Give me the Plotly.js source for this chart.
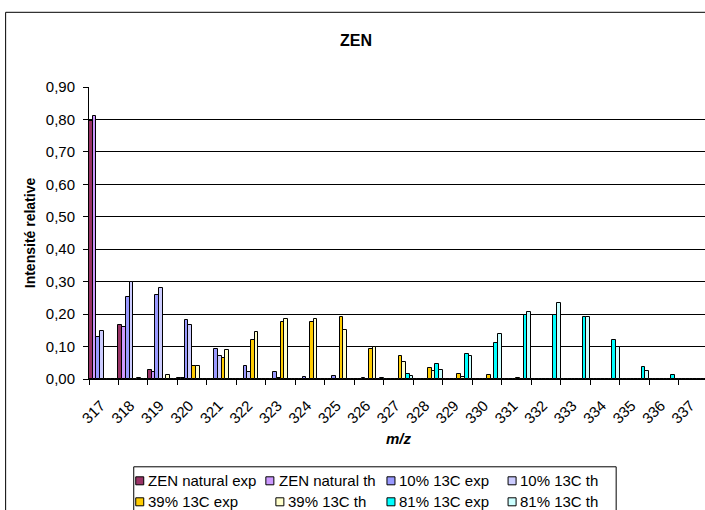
<!DOCTYPE html>
<html>
<head>
<meta charset="utf-8">
<script src="https://cdn.plot.ly/plotly-3.0.1.min.js"></script>
<style>
  html, body { margin: 0; padding: 0; overflow: hidden; background: #fff; }
  #chart { width: 720px; height: 510px; }
</style>
</head>
<body>
<div id="chart"></div>
<script>
// ---- data ----
const categories = ['317','318','319','320','321','322','323','324','325','326','327',
                    '328','329','330','331','332','333','334','335','336','337'];
const seriesNames = ['ZEN natural exp','ZEN natural th','10% 13C exp','10% 13C th',
                     '39% 13C exp','39% 13C th','81% 13C exp','81% 13C th'];
const zenNaturalExp = [0.794,0.168,0.029,0.004,0.001,0,0,0,0,0,0,0,0,0,0,0,0,0,0,0,0];
const zenNaturalTh  = [0.812,0.159,0.023,0.002,0,0,0,0,0,0,0,0,0,0,0,0,0,0,0,0,0];
const c10Exp = [0.130,0.253,0.260,0.183,0.093,0.040,0.023,0.007,0.010,0.003,0,0,0,0,0,0,0,0,0,0,0];
const c10Th  = [0.149,0.298,0.282,0.168,0.072,0.023,0.004,0.001,0,0,0,0,0,0,0,0,0,0,0,0,0];
const c39Exp = [0,0,0,0.041,0.066,0.121,0.177,0.177,0.190,0.093,0.070,0.034,0.015,0.011,0.002,0,0,0,0,0,0];
const c39Th  = [0,0.002,0.012,0.041,0.088,0.144,0.185,0.186,0.152,0.099,0.053,0.024,0.007,0.001,0,0,0,0,0,0,0];
const c81Exp = [0,0,0,0,0,0,0,0,0,0,0.014,0.045,0.078,0.111,0.198,0.197,0.190,0.120,0.038,0.011,0];
const c81Th  = [0,0,0,0,0,0,0,0,0,0.003,0.010,0.029,0.070,0.138,0.208,0.235,0.190,0.099,0.025,0,0];
const seriesValues = [zenNaturalExp, zenNaturalTh, c10Exp, c10Th, c39Exp, c39Th, c81Exp, c81Th];

// ---- style ----
const colors = ['#993366','#CC99FF','#9999FF','#CCCCFF','#FFCC00','#FFFFCC','#00FFFF','#CCFFFF'];
const FONT = 'Liberation Sans, Arial, sans-serif';
const W = 720, H = 510;
const L = 89.3, R = 707.75, T = 86.7, B = 378.7;
const xP = px => (px - L) / (R - L);
const yP = py => (B - py) / (B - T);

const traces = seriesNames.map((name, i) => ({
  type: 'bar',
  name: name,
  x: categories,
  y: seriesValues[i],
  marker: { color: colors[i], line: { color: '#000', width: 1 } },
  showlegend: false,
  hoverinfo: 'x+y+name'
}));

// custom legend (Excel-like layout)
const legendPos = [
  [136, 146, 480.5], [266, 277, 480.5], [387, 397, 480.5], [508, 518, 480.5],
  [136, 146, 501.5], [276, 286, 501.5], [387, 397, 501.5], [508, 518, 501.5]
];
const shapes = [
  // outer chart border
  { type: 'rect', xref: 'paper', yref: 'paper', x0: xP(6), x1: xP(760), y0: yP(12), y1: yP(560),
    line: { color: '#000', width: 1 }, fillcolor: 'rgba(0,0,0,0)', layer: 'below' },
  // legend box
  { type: 'rect', xref: 'paper', yref: 'paper', x0: xP(134), x1: xP(616), y0: yP(466.5), y1: yP(520),
    line: { color: '#000', width: 1 }, fillcolor: 'rgba(0,0,0,0)' }
];
const annotations = [];
seriesNames.forEach((name, i) => {
  const [sx, tx, cy] = legendPos[i];
  shapes.push({ type: 'rect', xref: 'paper', yref: 'paper',
    x0: xP(sx), x1: xP(sx + 8), y0: yP(cy - 4), y1: yP(cy + 4),
    fillcolor: colors[i], line: { color: '#000', width: 1 } });
  annotations.push({ xref: 'paper', yref: 'paper', x: xP(tx), y: yP(cy),
    xanchor: 'left', yanchor: 'middle', showarrow: false, text: name,
    font: { family: FONT, size: 15, color: '#000' } });
});

const layout = {
  width: W, height: H,
  margin: { l: L, r: W - R, t: T, b: H - B, pad: 0 },
  paper_bgcolor: '#fff', plot_bgcolor: '#fff',
  separators: ', ',
  font: { family: FONT, color: '#000' },
  title: { text: '<b>ZEN</b>', x: 356 / W, xref: 'container', xanchor: 'center',
           y: 1 - 40 / H, yref: 'container', yanchor: 'middle',
           font: { family: FONT, size: 16, color: '#000' } },
  barmode: 'group', bargap: 0, bargroupgap: 0,
  showlegend: false,
  xaxis: {
    type: 'category',
    tickson: 'boundaries',
    ticks: 'outside', ticklen: 5, tickcolor: '#000', tickwidth: 1,
    tickangle: -45,
    ticklabelstandoff: 11,
    ticklabelshift: -3,
    tickfont: { family: FONT, size: 15, color: '#000' },
    showline: true, linecolor: '#000', linewidth: 1,
    showgrid: false, zeroline: false,
    title: { text: '<b><i>m/z</i></b>', standoff: 7, font: { family: FONT, size: 15, color: '#000' } }
  },
  yaxis: {
    range: [0, 0.9001],
    tick0: 0, dtick: 0.1, tickformat: '.2f',
    ticks: 'outside', ticklen: 5, tickcolor: '#000', tickwidth: 1,
    ticklabelstandoff: 5,
    tickfont: { family: FONT, size: 15, color: '#000' },
    showline: true, linecolor: '#000', linewidth: 1,
    showgrid: true, gridcolor: '#000', gridwidth: 1,
    zeroline: false,
    title: { text: '<b>Intensité relative</b>', standoff: 6, font: { family: FONT, size: 14, color: '#000' } }
  },
  shapes: shapes,
  annotations: annotations
};

Plotly.newPlot('chart', traces, layout, { displayModeBar: false, responsive: false });
</script>
</body>
</html>
